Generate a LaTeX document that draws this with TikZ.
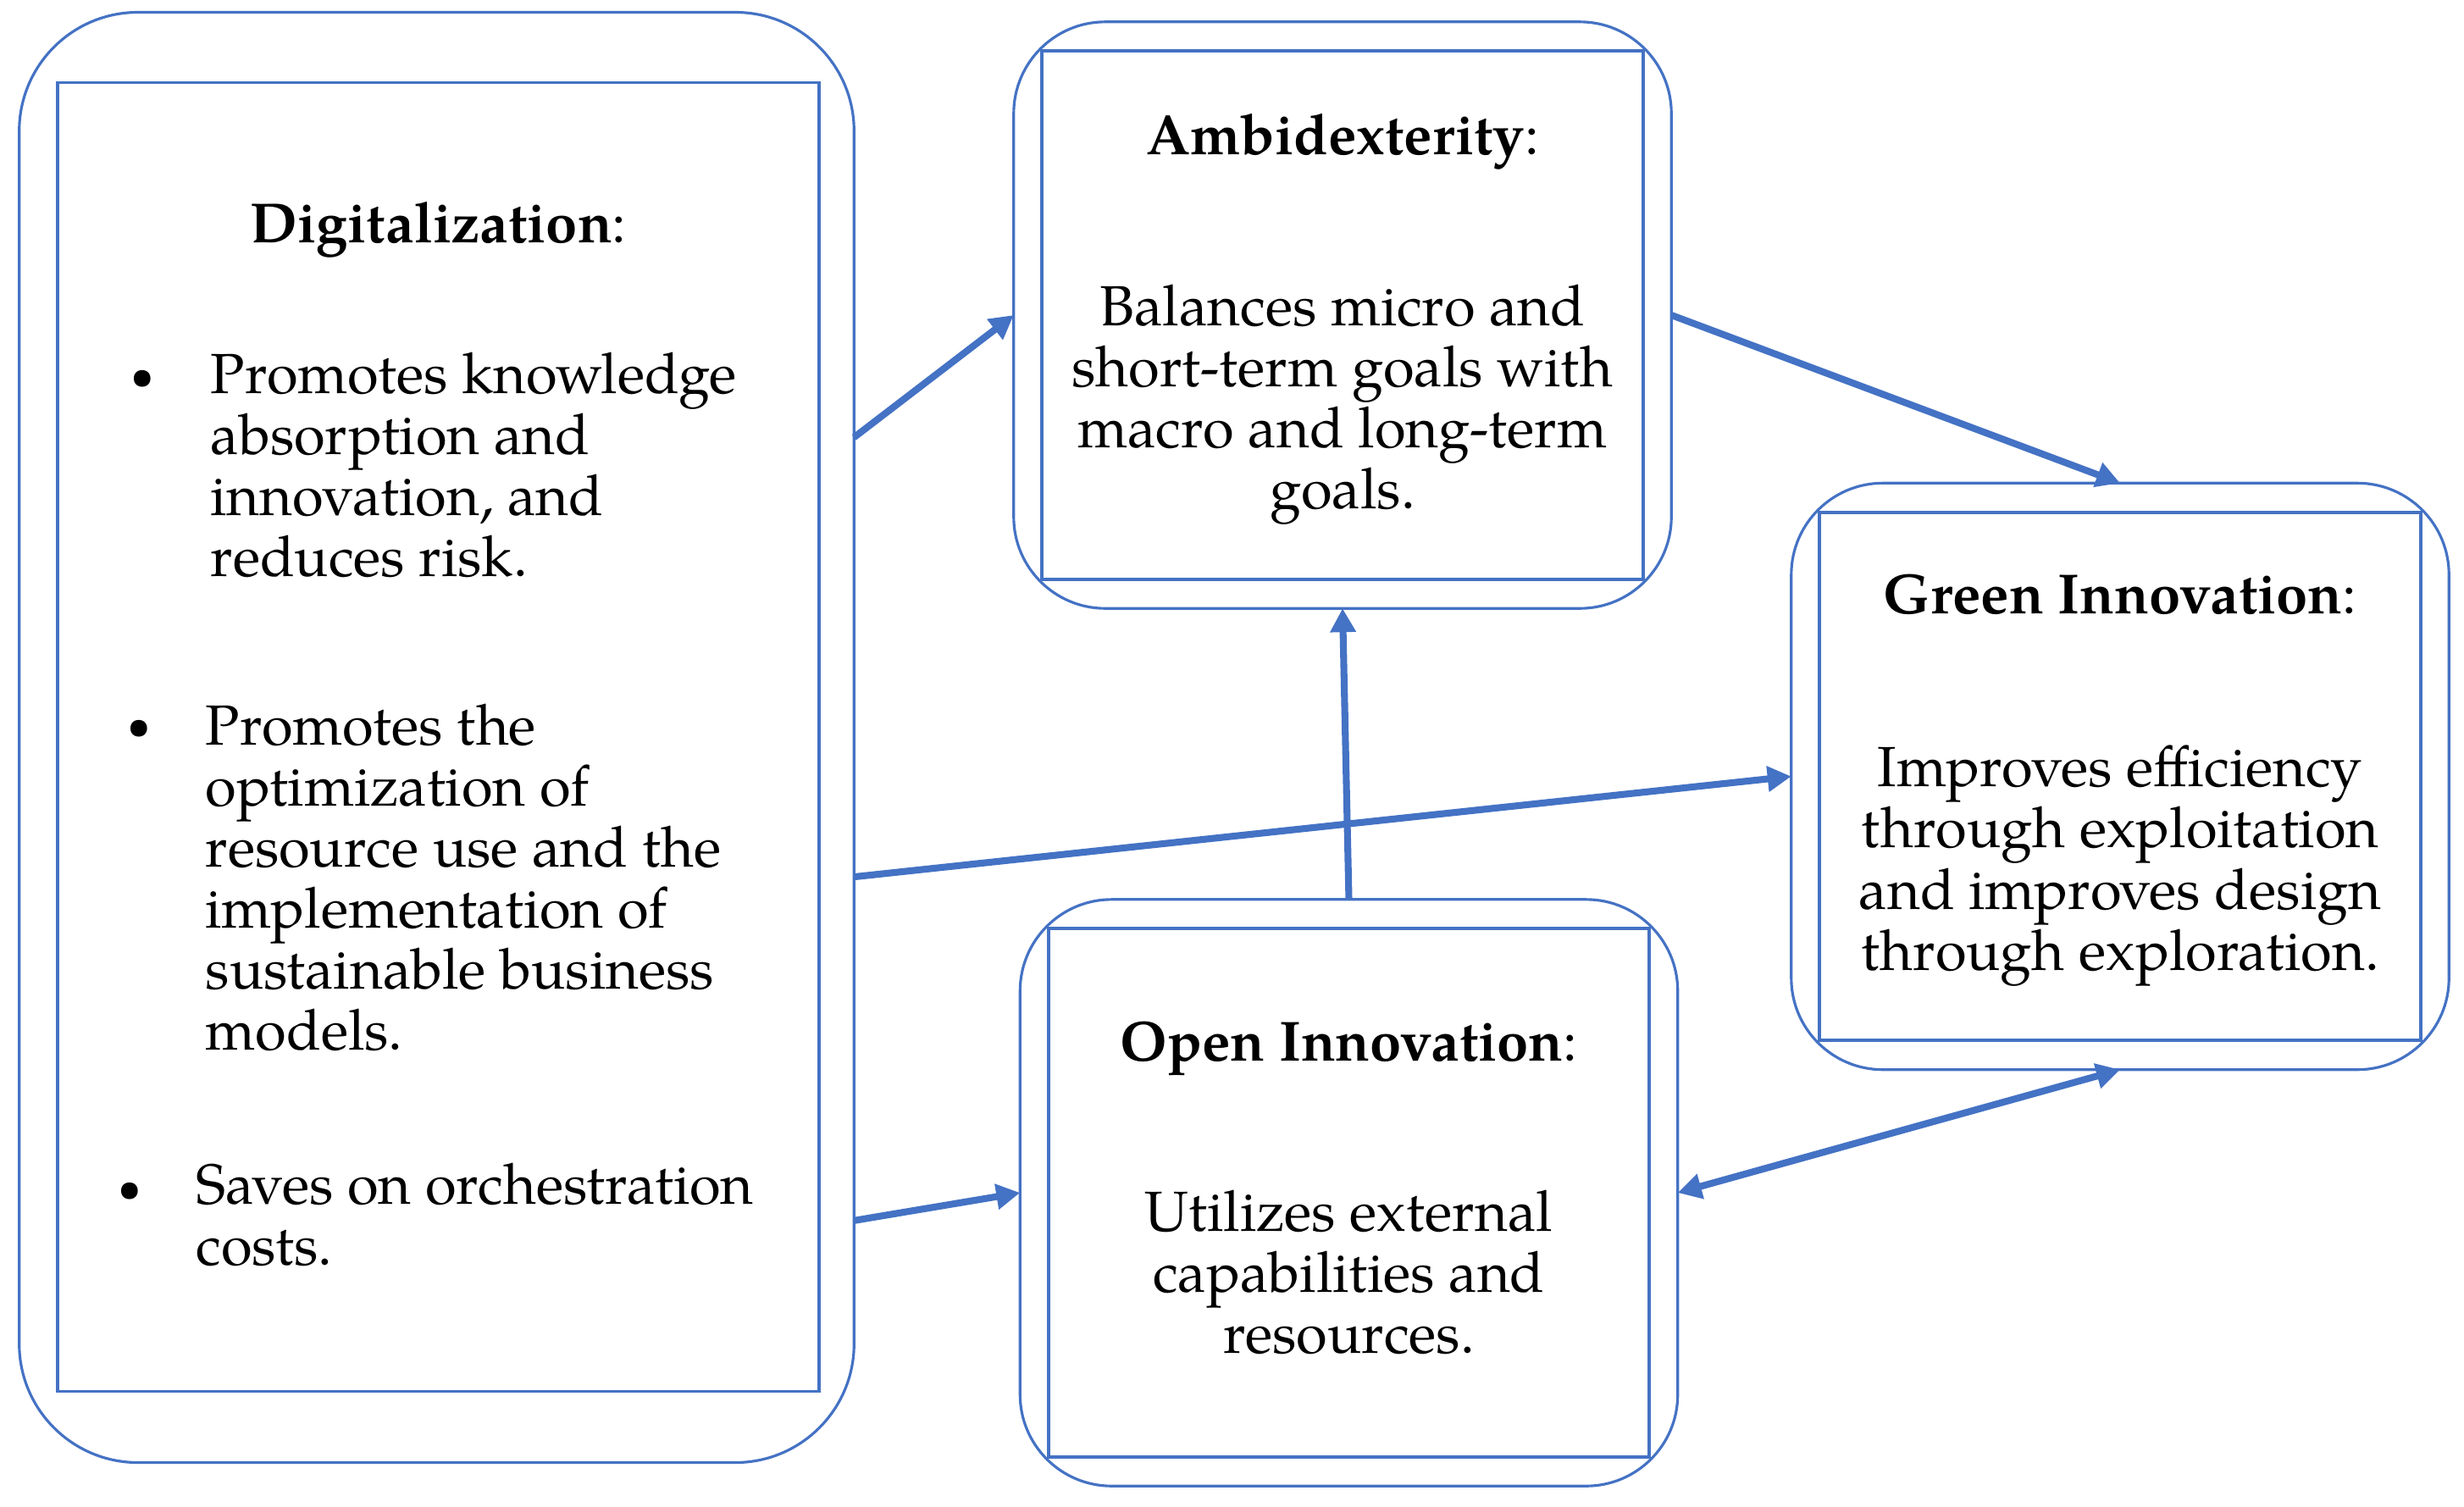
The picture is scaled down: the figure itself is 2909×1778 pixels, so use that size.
\documentclass[tikz,border=0pt]{standalone}
\usepackage{fontspec}
\setmainfont{TeX Gyre Pagella}
\usepackage{tikz}
\definecolor{boxblue}{RGB}{68,114,196}
\usetikzlibrary{arrows.meta, positioning, calc}

\begin{document}
\begin{tikzpicture}[
    x=0.01cm, y=-0.01cm,
    every node/.style={inner sep=0pt, outer sep=0pt},
    outerbox/.style={draw=boxblue, line width=0.9pt, rounded corners=1.08cm,
                     minimum width=7.76cm, minimum height=6.92cm},
    innerbox/.style={draw=boxblue, line width=1.1pt,
                     minimum width=7.09cm, minimum height=6.23cm},
    txt/.style={font=\fontsize{19}{20.5}\selectfont, align=center},
    dot/.style={font=\fontsize{14}{16}\selectfont},
    arrow/.style={-{Triangle[length=0.28cm, width=0.29cm]}, line width=2.3pt, boxblue},
    twoway/.style={{Triangle[length=0.28cm, width=0.29cm]}-{Triangle[length=0.28cm, width=0.29cm]},
                   line width=2.3pt, boxblue}
]
    \useasboundingbox (0,0) rectangle (2909,1778);

    % Boxes
    \node[outerbox, minimum width=9.85cm, minimum height=17.11cm, rounded corners=1.4cm] (dig) at (515.5,870.5) {};
    \node[innerbox, minimum width=8.99cm, minimum height=15.44cm] (digIn) at (517.5,870) {};
    \node[outerbox] (amb) at (1585,372) {};
    \node[innerbox] (ambIn) at (amb) {};
    \node[outerbox] (green) at (2503,916.5) {};
    \node[innerbox] (greenIn) at (green) {};
    \node[outerbox] (open) at (1592.5,1408) {};
    \node[innerbox] (openIn) at (open) {};

    % Digitalization text (base = last line)
    \node[txt, anchor=base] (digT) at ([yshift=-1.89cm]digIn.north) {\textbf{Digitalization}:};
    \node[dot, anchor=base] (dot1) at ($(digIn.north west)+(101,362)$) {\textbullet};
    \node[txt, align=left, anchor=base west] (item1) at ($(digIn.north west)+(181,583)$)
        {Promotes knowledge\\absorption and\\innovation, and\\reduces risk.};
    \node[dot, anchor=base] (dot2) at ($(digIn.north west)+(97,775)$) {\textbullet};
    \node[txt, align=left, anchor=base west] (item2) at ($(digIn.north west)+(175,1142)$)
        {Promotes the\\optimization of\\resource use and the\\implementation of\\sustainable business\\models.};
    \node[dot, anchor=base] (dot3) at ($(digIn.north west)+(86,1321)$) {\textbullet};
    \node[txt, align=left, anchor=base west] (item3) at ($(digIn.north west)+(164,1396)$)
        {Saves on orchestration\\costs.};

    % Other texts
    \node[txt, anchor=base] (ambT) at ([yshift=-1.22cm]ambIn.north) {\textbf{Ambidexterity}:};
    \node[txt, anchor=base] (ambB) at ([yshift=-4.18cm]ambT.base)
        {Balances micro and\\short-term goals with\\macro and long-term\\goals.};
    \node[txt, anchor=base] (greenT) at ([yshift=-1.20cm]greenIn.north) {\textbf{Green Innovation}:};
    \node[txt, anchor=base] (greenB) at ([yshift=-4.20cm]greenT.base)
        {Improves efficiency\\through exploitation\\and improves design\\through exploration.};
    \node[txt, anchor=base] (openT) at ([yshift=-1.56cm]openIn.north) {\textbf{Open Innovation}:};
    \node[txt, anchor=base] (openB) at ([yshift=-3.45cm]openT.base)
        {Utilizes external\\capabilities and\\resources.};

    % Arrows
    \draw[arrow] ([yshift=3.54cm]dig.east) -- (amb.west);
    \draw[arrow] (amb.east) -- (green.north);
    \draw[arrow] ([yshift=-1.645cm]dig.east) -- (green.west);
    \draw[arrow] (open.north) -- (amb.south);
    \draw[arrow] ([yshift=-5.70cm]dig.east) -- (open.west);
    \draw[twoway] (open.east) -- (green.south);
\end{tikzpicture}
\end{document}
